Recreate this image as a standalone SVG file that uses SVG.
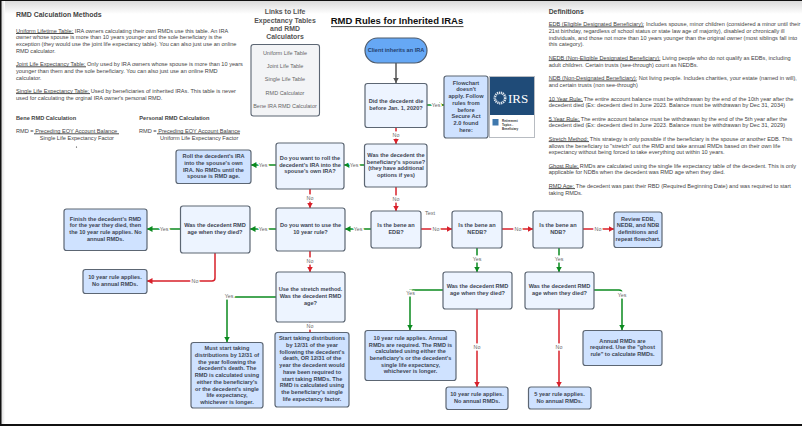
<svg xmlns="http://www.w3.org/2000/svg" width="802" height="426" viewBox="0 0 802 426">
<defs>
<style>
text{font-family:"Liberation Sans",Arial,sans-serif}
.b{font-size:5.62px;fill:#444}
.h{font-weight:bold;fill:#444}
.ul{stroke:#222;stroke-width:.8;fill:none}
.n{fill:#edf4ff;stroke:#5c6673;stroke-width:1.2}
.d{fill:#cfe2ff;stroke:#5c6673;stroke-width:1.2}
.t{font-size:5.6px;font-weight:bold;fill:#3d4654;text-anchor:middle}
.l{font-size:5.5px;fill:#666;text-anchor:middle}
.lb{font-size:5.3px;fill:#666;text-anchor:middle;paint-order:stroke;stroke:#fff;stroke-width:3px}
.g{fill:none;stroke:#0b8a1f;stroke-width:1.5}
.r{fill:none;stroke:#d8202a;stroke-width:1.5}
.k{fill:none;stroke:#555;stroke-width:1.5}
</style>
<linearGradient id="top" x1="0" y1="0" x2="0" y2="1"><stop offset="0" stop-color="#d8d8d8"/><stop offset="1" stop-color="#fff"/></linearGradient>
<linearGradient id="left" x1="0" y1="0" x2="1" y2="0"><stop offset="0" stop-color="#cfcfcf"/><stop offset="1" stop-color="#fff"/></linearGradient>
<marker id="ag" markerUnits="userSpaceOnUse" markerWidth="6" markerHeight="7" refX="5.5" refY="3.5" orient="auto"><path d="M0 .5L5.5 3.5L0 6.500z" fill="#0b8a1f"/></marker>
<marker id="ar" markerUnits="userSpaceOnUse" markerWidth="6" markerHeight="7" refX="5.5" refY="3.5" orient="auto"><path d="M0 .5L5.5 3.5L0 6.500z" fill="#d8202a"/></marker>
<marker id="ak" markerUnits="userSpaceOnUse" markerWidth="6" markerHeight="7" refX="5.5" refY="3.5" orient="auto"><path d="M0 .5L5.5 3.5L0 6.500z" fill="#555"/></marker>
</defs>
<rect width="802" height="426" fill="#fff"/>
<rect y="0" width="802" height="14" fill="url(#top)"/>
<rect x="0" width="5" height="426" fill="url(#left)"/>
<rect width="802" height="1" fill="#111"/>
<rect width="1.5" height="426" fill="#111"/>
<rect y="424" width="802" height="2" fill="#111"/>

<g id="left-notes">
<text x="16" y="16.8" class="h" font-size="6.95">RMD Calculation Methods</text>
<text class="b" x="16" y="32.6">Uniform Lifetime Table: IRA owners calculating their own RMDs use this table. An IRA</text>
<text class="b" x="16" y="39.3">owner whose spouse is more than 10 years younger and the sole beneficiary is the</text>
<text class="b" x="16" y="46">exception (they would use the joint life expectancy table). You can also just use an online</text>
<text class="b" x="16" y="52.8">RMD calculator.</text>
<text class="b" x="16" y="66">Joint Life Expectancy Table: Only used by IRA owners whose spouse is more than 10 years</text>
<text class="b" x="16" y="72.8">younger than them and the sole beneficiary. You can also just use an online RMD</text>
<text class="b" x="16" y="79.5">calculator.</text>
<text class="b" x="16" y="92.8">Single Life Expectancy Table: Used by beneficiaries of inherited IRAs. This table is never</text>
<text class="b" x="16" y="99.5">used for calculating the orginal IRA owner's personal RMD.</text>
<text class="h" x="16" y="119.9" font-size="5.65">Bene RMD Calculation</text>
<text class="h" x="139.3" y="119.9" font-size="5.65">Personal RMD Calculation</text>
<text class="b" x="16" y="133">RMD = Preceding EOY Account Balance</text>
<text class="b" x="39.7" y="139.9">Single Life Expectancy Factor</text>
<text class="b" x="139" y="133">RMD = Preceding EOY Account Balance</text>
<text class="b" x="160" y="139.9">Uniform Life Expectancy Factor</text>
<circle cx="76.5" cy="147" r=".6" fill="#222"/>
<path class="ul" d="M16 33.5H73.7M16 66.8H86M16 93.6H90M34 133.8H119M157 133.8H240"/>
</g>

<g id="definitions">
<text x="548.7" y="14" class="h" font-size="6.8">Definitions</text>
<text class="b" x="548.7" y="26.1">EDB (Eligible Designated Beneficiary): Includes spouse, minor children (considered a minor until their</text>
<text class="b" x="548.7" y="32.8">21st birthday, regardless of school status or state law age of majority), disabled or chronically ill</text>
<text class="b" x="548.7" y="39.6">individuals, and those not more than 10 years younger than the original owner (most siblings fall into</text>
<text class="b" x="548.7" y="46.4">this category).</text>
<text class="b" x="548.7" y="59.8">NEDB (Non-Eligible Designated Beneficiary): Living people who do not qualify as EDBs, including</text>
<text class="b" x="548.7" y="66.8">adult children. Certain trusts (see-through) count as NEDBs.</text>
<text class="b" x="548.7" y="80.1">NDB (Non-Designated Beneficiary): Not living people. Includes charities, your estate (named in will),</text>
<text class="b" x="548.7" y="87">and certain trusts (non see-through)</text>
<text class="b" x="548.7" y="100.5">10 Year Rule: The entire account balance must be withdrawan by the end of the 10th year after the</text>
<text class="b" x="548.7" y="107.1">decedent died (Ex: decedent died in June 2023. Balance must be withdrawan by Dec 31, 2034)</text>
<text class="b" x="548.7" y="120.5">5 Year Rule: The entire account balance must be withdrawan by the end of the 5th year after the</text>
<text class="b" x="548.7" y="127.1">decedent died (Ex: decedent died in June 2023. Balance must be withdrawan by Dec 31, 2029)</text>
<text class="b" x="548.7" y="140.8">Stretch Method: This strategy is only possible if the beneficiary is the spouse or another EDB. This</text>
<text class="b" x="548.7" y="147.5">allows the beneficiary to "stretch" out the RMD and take annual RMDs based on their own life</text>
<text class="b" x="548.7" y="154.1">expectancy without being forced to take everything out within 10 years.</text>
<text class="b" x="548.7" y="167.5">Ghost Rule: RMDs are calculated using the single life expectancy table of the decedent. This is only</text>
<text class="b" x="548.7" y="174.1">applicable for NDBs when the decedent was RMD age when they died.</text>
<text class="b" x="548.7" y="187.8">RMD Age: The decedent was past their RBD (Required Beginning Date) and was required to start</text>
<text class="b" x="548.7" y="194.5">taking RMDs.</text>
<path class="ul" d="M548.7 26.9H644M548.7 60.6H660.3M548.7 80.9H636.7M548.7 101.3H583M548.7 121.3H580M548.7 141.6H589M548.7 168.3H579M548.7 188.6H575"/>
</g>

<g id="title">
<text x="397" y="24.4" text-anchor="middle" font-size="9.5" font-weight="bold" fill="#111">RMD Rules for Inherited IRAs</text>
<path d="M331 26.6H463.5" stroke="#111" stroke-width=".8"/>
</g>

<g id="links">
<g fill="#555" font-weight="bold" font-size="6.9" text-anchor="middle">
<text x="285" y="14">Links to Life</text><text x="285" y="22.5">Expectancy Tables</text><text x="285" y="30.8">and RMD</text><text x="285" y="39.3">Calculators</text></g>
<rect x="251" y="44.5" width="68.5" height="71.5" rx="2.5" fill="#f3f4f6" stroke="#5c6673" stroke-width="1.1"/>
<text class="l" x="285" y="54.5">Uniform Life Table</text>
<text class="l" x="285" y="68">Joint Life Table</text>
<text class="l" x="285" y="81.3">Single Life Table</text>
<text class="l" x="285" y="94.8">RMD Calculator</text>
<text class="l" x="285" y="108.2">Bene IRA RMD Calculator</text>
</g>

<g id="connectors">
<path class="k" d="M396 63V83" marker-end="url(#ak)"/>
<path class="r" d="M396 127V144" marker-end="url(#ar)"/>
<path class="g" d="M427 105H444" marker-end="url(#ag)"/>
<path class="g" d="M364 165H344" marker-end="url(#ag)"/>
<path class="g" d="M276 165H251" marker-end="url(#ag)"/>
<path class="r" d="M310 189V208" marker-end="url(#ar)"/>
<path class="r" d="M396 187V211" marker-end="url(#ar)"/>
<path class="g" d="M371 229H345" marker-end="url(#ag)"/>
<path class="g" d="M276 229H250" marker-end="url(#ag)"/>
<path class="g" d="M180 229H147" marker-end="url(#ag)"/>
<path class="r" d="M215 253V278Q215 281 212 281H147" marker-end="url(#ar)"/>
<path class="r" d="M310 251V272" marker-end="url(#ar)"/>
<path class="g" d="M276 297H227V342" marker-end="url(#ag)"/>
<path class="r" d="M310 322V332"/>
<path class="r" d="M421 229H452" marker-end="url(#ar)"/>
<path class="r" d="M502 229H533" marker-end="url(#ar)"/>
<path class="r" d="M583 229H614" marker-end="url(#ar)"/>
<path class="g" d="M477 248V272" marker-end="url(#ag)"/>
<path class="g" d="M559 248V272" marker-end="url(#ag)"/>
<path class="g" d="M443 290H410V330" marker-end="url(#ag)"/>
<path class="r" d="M477 309V387" marker-end="url(#ar)"/>
<path class="g" d="M594 290H619Q622 290 622 293V330" marker-end="url(#ag)"/>
<path class="r" d="M559 309V387" marker-end="url(#ar)"/>
<g>
<text class="lb" x="396" y="137">No</text>
<text class="lb" x="436" y="106.5">Yes</text>
<text class="lb" x="354" y="167">Yes</text>
<text class="lb" x="263" y="167">Yes</text>
<text class="lb" x="310" y="200">No</text>
<text class="lb" x="396" y="200.5">No</text>
<text class="lb" x="358" y="231">Yes</text>
<text class="lb" x="263" y="231">Yes</text>
<text class="lb" x="164" y="231">Yes</text>
<text class="lb" x="195" y="282.5">No</text>
<text class="lb" x="310" y="263">No</text>
<text class="lb" x="229" y="298">Yes</text>
<text class="lb" x="310" y="328">No</text>
<text class="lb" x="436" y="231">No</text>
<text class="lb" x="518" y="231">No</text>
<text class="lb" x="598" y="231">No</text>
<text class="lb" x="477" y="261">Yes</text>
<text class="lb" x="559" y="261">Yes</text>
<text class="lb" x="410.5" y="295">Yes</text>
<text class="lb" x="477" y="349">No</text>
<text class="lb" x="622" y="297">Yes</text>
<text class="lb" x="559" y="349">No</text>
<text class="l" x="430" y="215">Text</text>
</g>
</g>

<g id="client"><rect x="365" y="38" width="62" height="25" rx="12.5" fill="#66a8f5" stroke="#4d5a6b" stroke-width="1.2"/><text class="t" x="396" y="51.8" style="fill:#24406e">Client inherits an IRA</text></g>
<g id="q-before-2020"><rect class="n" x="365" y="83.5" width="62" height="44" rx="2.5"/><text class="t" x="396" y="103">Did the decedent die</text><text class="t" x="396" y="109.7">before Jan. 1, 2020?</text></g>
<g id="flowchart-note"><rect class="d" x="444" y="76" width="44" height="62" rx="2.5"/>
<text class="t" x="466" y="84.7">Flowchart</text><text class="t" x="466" y="91.4">doesn't</text><text class="t" x="466" y="98.1">apply. Follow</text><text class="t" x="466" y="104.8">rules from</text><text class="t" x="466" y="111.5">before</text><text class="t" x="466" y="118.2">Secure Act</text><text class="t" x="466" y="124.9">2.0 found</text><text class="t" x="466" y="131.6">here:</text></g>
<g id="irs-card"><rect x="489.5" y="76.5" width="45" height="61" fill="#fff" stroke="#b8bcc2" stroke-width="1"/><rect x="490" y="77" width="44" height="38" fill="#1f4b78"/>
<circle cx="500" cy="98" r="5.2" fill="none" stroke="#dfe6ee" stroke-width="2.6" stroke-dasharray="1.2 .7"/>
<text x="508" y="103" font-size="13" fill="#fff" style="font-family:'Liberation Serif',serif">IRS</text>
<rect x="492.5" y="119" width="6" height="6.5" fill="#3f78ad"/>
<g font-size="3" font-weight="bold" fill="#333"><text x="502" y="121.5">Retirement</text><text x="502" y="125.8">Topics -</text><text x="502" y="130.1">Beneficiary</text></g></g>
<g id="q-spouse"><rect class="n" x="364.5" y="144" width="62.5" height="43" rx="2.5"/><text class="t" x="396" y="156.8">Was the decedent the</text><text class="t" x="396" y="163.5">beneficiary's spouse?</text><text class="t" x="396" y="170.2">(they have additional</text><text class="t" x="396" y="176.9">options if yes)</text></g>
<g id="q-edb"><rect class="n" x="371" y="211" width="50" height="37" rx="2.5"/><text class="t" x="396" y="227.4">Is the bene an</text><text class="t" x="396" y="234.1">EDB?</text></g>
<g id="q-nedb"><rect class="n" x="452" y="211" width="50" height="37" rx="2.5"/><text class="t" x="477" y="227.4">Is the bene an</text><text class="t" x="477" y="234.1">NEDB?</text></g>
<g id="q-ndb"><rect class="n" x="533" y="211" width="50" height="37" rx="2.5"/><text class="t" x="558" y="227.4">Is the bene an</text><text class="t" x="558" y="234.1">NDB?</text></g>
<g id="review"><rect class="d" x="614" y="212" width="48" height="35.5" rx="2.5"/><text class="t" x="638" y="220.5">Review EDB,</text><text class="t" x="638" y="227.2">NEDB, and NDB</text><text class="t" x="638" y="233.9">definitions and</text><text class="t" x="638" y="240.6">repeat flowchart.</text></g>
<g id="roll-box"><rect class="d" x="176" y="150" width="75" height="33.5" rx="2.5"/><text class="t" x="213.5" y="158.3">Roll the decedent's IRA</text><text class="t" x="213.5" y="165">into the spouse's own</text><text class="t" x="213.5" y="171.7">IRA. No RMDs until the</text><text class="t" x="213.5" y="178.4">spouse is RMD age.</text></g>
<g id="q-roll"><rect class="n" x="276" y="143" width="68" height="46" rx="2.5"/><text class="t" x="310" y="160">Do you want to roll the</text><text class="t" x="310" y="166.7">decedent's IRA into the</text><text class="t" x="310" y="173.4">spouse's own IRA?</text></g>
<g id="q-10yr"><rect class="n" x="276" y="208" width="69" height="43" rx="2.5"/><text class="t" x="310.5" y="227.4">Do you want to use the</text><text class="t" x="310.5" y="234.1">10 year rule?</text></g>
<g id="q-rmd-age-a"><rect class="n" x="180.5" y="206" width="69.5" height="47" rx="2.5"/><text class="t" x="215" y="227.4">Was the decedent RMD</text><text class="t" x="215" y="234.1">age when they died?</text></g>
<g id="finish"><rect class="d" x="64" y="209" width="83" height="41.5" rx="2.5"/><text class="t" x="105.5" y="220.6">Finish the decedent's RMD</text><text class="t" x="105.5" y="227.3">for the year they died, then</text><text class="t" x="105.5" y="234">the 10 year rule applies. No</text><text class="t" x="105.5" y="240.7">annual RMDs.</text></g>
<g id="ten-year-a"><rect class="d" x="83" y="269.5" width="64" height="24" rx="2.5"/><text class="t" x="115" y="279">10 year rule applies.</text><text class="t" x="115" y="285.7">No annual RMDs.</text></g>
<g id="q-stretch"><rect class="n" x="276" y="272" width="69" height="50" rx="2.5"/><text class="t" x="310.5" y="291.4">Use the stretch method.</text><text class="t" x="310.5" y="298.1">Was the decedent RMD</text><text class="t" x="310.5" y="304.8">age?</text></g>
<g id="must-start"><rect class="d" x="191" y="342.5" width="72" height="65.5" rx="2.5"/><text class="t" x="227" y="350.3">Must start taking</text><text class="t" x="227" y="357">distributions by 12/31 of</text><text class="t" x="227" y="363.7">the year following the</text><text class="t" x="227" y="370.4">decedent's death. The</text><text class="t" x="227" y="377.1">RMD is calculated using</text><text class="t" x="227" y="383.8">either the beneficiary's</text><text class="t" x="227" y="390.5">or the decedent's single</text><text class="t" x="227" y="397.2">life expectancy,</text><text class="t" x="227" y="403.9">whichever is longer.</text></g>
<g id="start-taking"><rect class="d" x="275" y="332.5" width="74" height="74.5" rx="2.5"/><text class="t" x="312" y="340.3">Start taking distributions</text><text class="t" x="312" y="347">by 12/31 of the year</text><text class="t" x="312" y="353.7">following the decedent's</text><text class="t" x="312" y="360.4">death, OR 12/31 of the</text><text class="t" x="312" y="367.1">year the decedent would</text><text class="t" x="312" y="373.8">have been required to</text><text class="t" x="312" y="380.5">start taking RMDs. The</text><text class="t" x="312" y="387.2">RMD is calculated using</text><text class="t" x="312" y="393.9">the beneficiary's single</text><text class="t" x="312" y="400.6">life expectancy factor.</text></g>
<g id="q-rmd-age-b"><rect class="n" x="443" y="272" width="69" height="37" rx="2.5"/><text class="t" x="477.5" y="287.8">Was the decedent RMD</text><text class="t" x="477.5" y="294.5">age when they died?</text></g>
<g id="q-rmd-age-c"><rect class="n" x="525" y="272" width="69" height="37" rx="2.5"/><text class="t" x="559.5" y="287.8">Was the decedent RMD</text><text class="t" x="559.5" y="294.5">age when they died?</text></g>
<g id="ten-year-annual"><rect class="d" x="365" y="330.5" width="91" height="50" rx="2.5"/><text class="t" x="410.5" y="339.8">10 year rule applies. Annual</text><text class="t" x="410.5" y="346.5">RMDs are required. The RMD is</text><text class="t" x="410.5" y="353.2">calculated using either the</text><text class="t" x="410.5" y="359.9">beneficiary's or the decedent's</text><text class="t" x="410.5" y="366.6">single life expectancy,</text><text class="t" x="410.5" y="373.3">whichever is longer.</text></g>
<g id="ten-year-b"><rect class="d" x="446" y="387" width="62" height="22.5" rx="2.5"/><text class="t" x="477" y="396">10 year rule applies.</text><text class="t" x="477" y="402.7">No annual RMDs.</text></g>
<g id="annual-ghost"><rect class="d" x="583" y="330.5" width="79" height="35" rx="2.5"/><text class="t" x="622.5" y="342.5">Annual RMDs are</text><text class="t" x="622.5" y="349.2">required. Use the "ghost</text><text class="t" x="622.5" y="355.9">rule" to calculate RMDs.</text></g>
<g id="five-year"><rect class="d" x="528.5" y="387" width="62.5" height="22" rx="2.5"/><text class="t" x="559.5" y="395.8">5 year rule applies.</text><text class="t" x="559.5" y="402.5">No annual RMDs.</text></g>
</svg>
